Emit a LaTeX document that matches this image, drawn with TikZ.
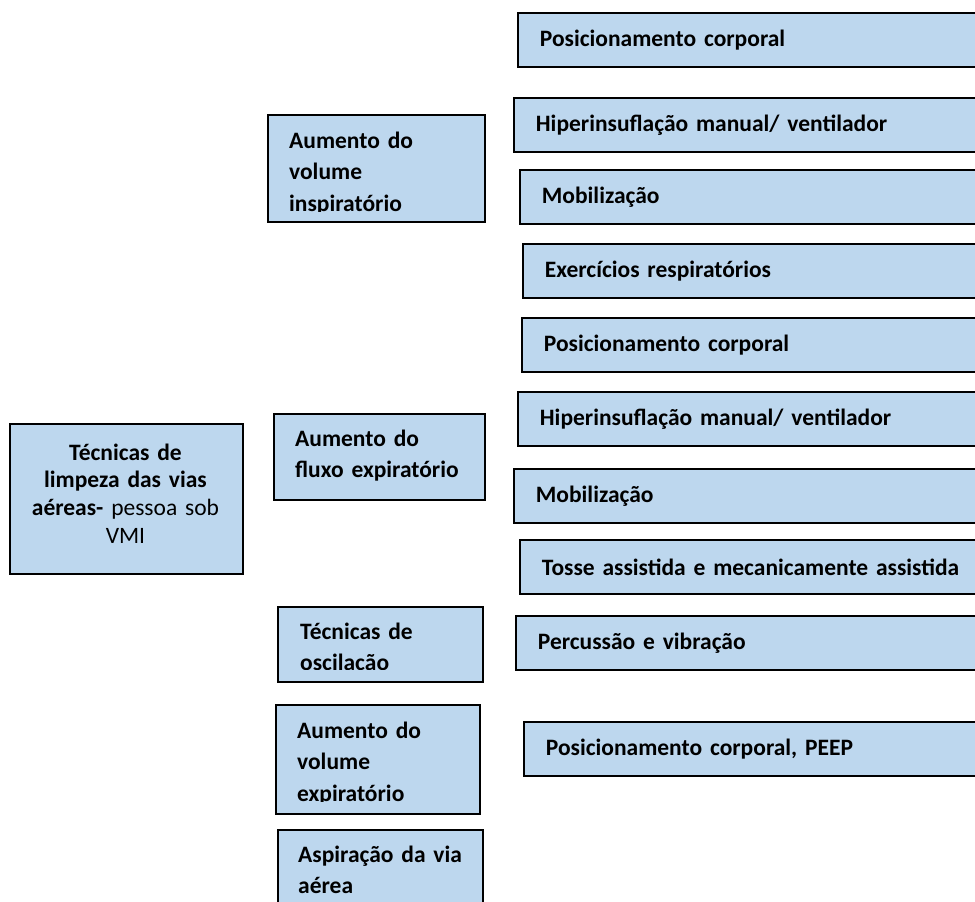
\documentclass[tikz,border=0pt]{standalone}
\usepackage{fontspec}
\setmainfont{Carlito}
\definecolor{azulcaixa}{HTML}{BDD7EE}

\begin{document}
\begin{tikzpicture}[x=1pt, y=-1pt]
	% Stili delle caixas
	\tikzset{
		caixa/.style={rectangle, draw=black, fill=azulcaixa, line width=1.8pt, inner sep=0pt, anchor=north west},
		tecnica/.style={caixa, minimum width=480pt, minimum height=54pt, inner xsep=22pt, text width=436pt, align=left, font=\fontsize{23.5}{31.5}\selectfont\bfseries},
		grupo/.style={caixa, inner sep=0pt},
		texto/.style={anchor=base west, inner sep=0pt, text width=200pt, align=left, font=\fontsize{23.5}{31.5}\selectfont\bfseries}
	}
	\clip (0,0) rectangle (975,902);
	
	% Caixa principal
	\node[caixa, minimum width=233pt, minimum height=150pt] (raiz) at (9,423) {};
	\node[anchor=base, inner sep=0pt, text width=220pt, align=center, font=\fontsize{23.5}{27.7}\selectfont] (raiz_txt) at (125.5,460)
		{\textbf{Técnicas de}\\\textbf{limpeza das vias}\\\textbf{aéreas-} pessoa sob\\VMI};
	
	% Caixas dos grupos
	\node[grupo, minimum width=217pt, minimum height=107pt] (insp) at (267,114) {};
	\begin{scope}
		\clip (insp.north west) rectangle ([yshift=11pt]insp.south east);
		\node[texto] (insp_txt) at (289,148) {Aumento do\\volume\\inspiratório};
	\end{scope}
	
	\node[grupo, minimum width=211pt, minimum height=86pt] (fluxo) at (273,413) {};
	\node[texto] (fluxo_txt) at (295,446) {Aumento do\\fluxo expiratório};
	
	\node[grupo, minimum width=205pt, minimum height=75pt] (oscil) at (277,606) {};
	\begin{scope}
		\clip (oscil.north west) rectangle ([yshift=13pt]oscil.south east);
		\node[texto] (oscil_txt) at (300,639) {Técnicas de\\oscilação};
	\end{scope}
	
	\node[grupo, minimum width=204pt, minimum height=109pt] (exp) at (275,704) {};
	\begin{scope}
		\clip (exp.north west) rectangle ([yshift=13pt]exp.south east);
		\node[texto] (exp_txt) at (297,738) {Aumento do\\volume\\expiratório};
	\end{scope}
	
	\node[grupo, minimum width=205pt, minimum height=100pt] (asp) at (277,829) {};
	\node[texto] (asp_txt) at (298,862) {Aspiração da via\\aérea};
	
	% Técnicas (colonna destra)
	\node[tecnica] (pos_a)   at (517,12)  {Posicionamento corporal};
	\node[tecnica] (hiper_a) at (513,97)  {Hiperinsuflação manual/ ventilador};
	\node[tecnica] (mob_a)   at (519,169) {Mobilização};
	\node[tecnica] (exer)    at (522,243) {Exercícios respiratórios};
	\node[tecnica] (pos_b)   at (521,317) {Posicionamento corporal};
	\node[tecnica] (hiper_b) at (517,391) {Hiperinsuflação manual/ ventilador};
	\node[tecnica] (mob_b)   at (513,468) {Mobilização};
	\node[tecnica] (tosse)   at (519,539) {Tosse assistida e mecanicamente assistida};
	\node[tecnica] (perc)    at (515,615) {Percussão e vibração};
	\node[tecnica] (peep)    at (523,721) {Posicionamento corporal, PEEP};
	
\end{tikzpicture}
\end{document}
